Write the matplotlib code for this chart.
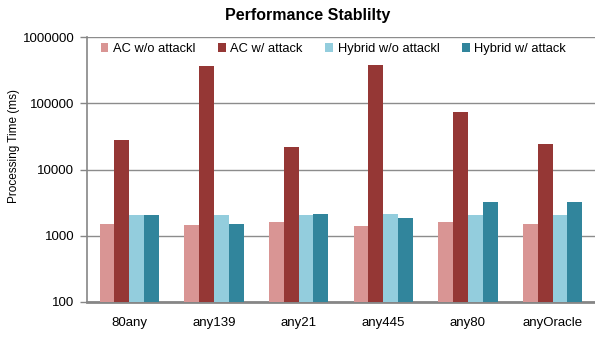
import matplotlib
matplotlib.use("Agg")
import matplotlib.pyplot as plt
import numpy as np
from matplotlib.ticker import FixedLocator, NullLocator

plt.rcParams['font.family'] = ['Liberation Sans', 'DejaVu Sans']

categories = ["80any", "any139", "any21", "any445", "any80", "anyOracle"]
series_names = ["AC w/o attackl", "AC w/ attack", "Hybrid w/o attackl", "Hybrid w/ attack"]
ac_wo = [1520, 1450, 1590, 1380, 1590, 1520]
ac_w = [27500, 363000, 22000, 380000, 75000, 24000]
hyb_wo = [2060, 2060, 2060, 2150, 2060, 2060]
hyb_w = [2060, 1520, 2150, 1830, 3240, 3240]
colors = ["#D99594", "#953735", "#93CDDD", "#31859C"]
yticks = [100, 1000, 10000, 100000, 1000000]
ytick_labels = ["100", "1000", "10000", "100000", "1000000"]

fig = plt.figure(figsize=(5.95, 3.37), dpi=100)
ax = fig.add_axes([0.146, 0.104, 0.854, 0.786])

x = np.arange(len(categories))
w = 0.175
all_series = [ac_wo, ac_w, hyb_wo, hyb_w]
for i, (vals, name, c) in enumerate(zip(all_series, series_names, colors)):
    ax.bar(x + (i - 1.5) * w, vals, width=w, color=c, label=name, zorder=3)

ax.set_yscale('log')
ax.set_ylim(100, 1000000)
ax.set_xlim(-0.5, len(categories) - 0.5)
ax.yaxis.set_major_locator(FixedLocator(yticks))
ax.set_yticklabels(ytick_labels, fontsize=9.5)
ax.yaxis.set_minor_locator(NullLocator())
ax.set_xticks(x)
ax.set_xticklabels(categories, fontsize=9.5)
ax.tick_params(axis='x', length=0, pad=11)
ax.tick_params(axis='y', length=5, width=1, color='#868686', pad=4)
ax.grid(axis='y', color='#8C8C8C', linewidth=1, zorder=0)
for s in ['top', 'right']:
    ax.spines[s].set_visible(False)
ax.spines['left'].set_color('#868686')
ax.spines['left'].set_linewidth(1.2)
ax.spines['bottom'].set_color('#868686')
ax.spines['bottom'].set_linewidth(2)
ax.set_ylabel("Processing Time (ms)", fontsize=8.5)
ax.yaxis.set_label_coords(-0.131, 0.59)
fig.suptitle("Performance Stablilty", fontsize=11.5, fontweight='bold', x=0.517, y=0.975)

leg = ax.legend(loc='center', ncol=4, frameon=False, fontsize=9.3,
                bbox_to_anchor=(0.485, 0.955), handlelength=0.6, handleheight=0.6,
                columnspacing=1.75, handletextpad=0.35, borderaxespad=0)

fig.savefig("out.png", dpi=100)
